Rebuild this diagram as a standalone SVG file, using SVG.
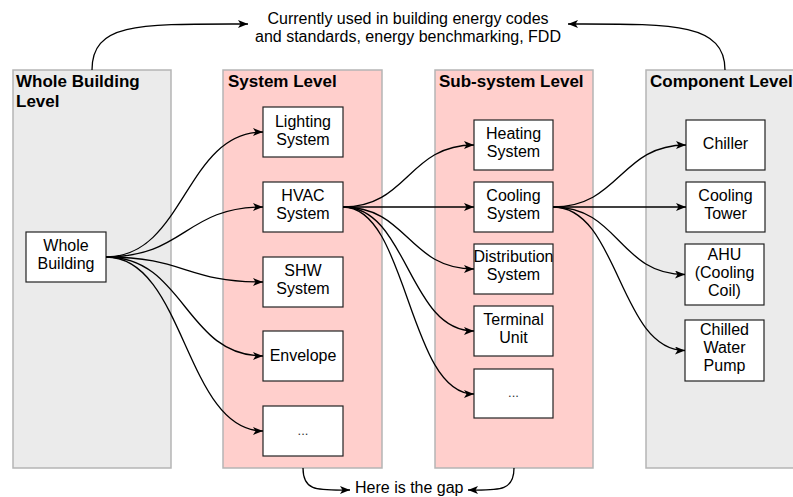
<svg xmlns="http://www.w3.org/2000/svg" width="793" height="497" viewBox="0 0 793 497">
<defs>
<marker id="ah" markerWidth="11" markerHeight="8" refX="10" refY="4" orient="auto" markerUnits="userSpaceOnUse">
<path d="M0,0 L10,4 L0,8 L2.5,4 z" fill="#000"/>
</marker>
<style>
.col-gray{fill:#ebebeb;stroke:#b5b5b5;stroke-width:1.5}
.col-pink{fill:#ffcfcc;stroke:#b5b5b5;stroke-width:1.5}
.title{font-family:"Liberation Sans",Arial,sans-serif;font-weight:bold;font-size:17px;fill:#000}
.box{fill:#fff;stroke:#222;stroke-width:1.2}
.lbl{font-family:"Liberation Sans",Arial,sans-serif;font-size:16px;fill:#000;text-anchor:middle}
.dots{font-family:"Liberation Sans",Arial,sans-serif;font-size:13px;fill:#333;text-anchor:middle}
.note{font-family:"Liberation Sans",Arial,sans-serif;font-size:16px;fill:#000}
.conn path{fill:none;stroke:#000;stroke-width:1.3;marker-end:url(#ah)}
</style>
</defs>
<rect width="793" height="497" fill="#fff"/>

<g id="col-whole">
<rect class="col-gray" x="13" y="70" width="158" height="398"/>
<text class="title" x="16" y="87">Whole Building</text>
<text class="title" x="16" y="107">Level</text>
</g>
<g id="col-system">
<rect class="col-pink" x="223" y="70" width="159" height="398"/>
<text class="title" x="228" y="87">System Level</text>
</g>
<g id="col-subsystem">
<rect class="col-pink" x="435" y="70" width="158" height="398"/>
<text class="title" x="439" y="87">Sub-system Level</text>
</g>
<g id="col-component">
<rect class="col-gray" x="646" y="70" width="160" height="398"/>
<text class="title" x="650" y="87">Component Level</text>
</g>

<g id="note-top">
<text class="note" x="408" y="24" text-anchor="middle">Currently used in building energy codes</text>
<text class="note" x="408" y="42" text-anchor="middle">and standards, energy benchmarking, FDD</text>
</g>
<g id="note-gap">
<text class="note" x="355" y="493">Here is the gap</text>
</g>

<g id="n-whole"><rect class="box" x="26" y="232" width="80" height="50"/><text class="lbl" x="66" y="251">Whole</text><text class="lbl" x="66" y="269">Building</text></g>

<g id="n-lighting"><rect class="box" x="263" y="107" width="80" height="50"/><text class="lbl" x="303" y="127">Lighting</text><text class="lbl" x="303" y="145">System</text></g>
<g id="n-hvac"><rect class="box" x="263" y="182" width="80" height="50"/><text class="lbl" x="303" y="201">HVAC</text><text class="lbl" x="303" y="219">System</text></g>
<g id="n-shw"><rect class="box" x="263" y="257" width="80" height="50"/><text class="lbl" x="303" y="276">SHW</text><text class="lbl" x="303" y="294">System</text></g>
<g id="n-envelope"><rect class="box" x="263" y="331" width="80" height="50"/><text class="lbl" x="303" y="361">Envelope</text></g>
<g id="n-sys-more"><rect class="box" x="263" y="406" width="80" height="50"/><text class="dots" x="303" y="435">...</text></g>

<g id="n-heating"><rect class="box" x="474" y="120" width="79" height="50"/><text class="lbl" x="513.5" y="139">Heating</text><text class="lbl" x="513.5" y="157">System</text></g>
<g id="n-cooling"><rect class="box" x="474" y="182" width="79" height="50"/><text class="lbl" x="513.5" y="201">Cooling</text><text class="lbl" x="513.5" y="219">System</text></g>
<g id="n-distribution"><rect class="box" x="474" y="244" width="79" height="50"/><text class="lbl" x="513.5" y="262">Distribution</text><text class="lbl" x="513.5" y="280">System</text></g>
<g id="n-terminal"><rect class="box" x="474" y="306" width="79" height="50"/><text class="lbl" x="513.5" y="325">Terminal</text><text class="lbl" x="513.5" y="343">Unit</text></g>
<g id="n-sub-more"><rect class="box" x="474" y="369" width="79" height="49"/><text class="dots" x="513.5" y="397">...</text></g>

<g id="n-chiller"><rect class="box" x="686" y="120" width="79" height="50"/><text class="lbl" x="725.5" y="149">Chiller</text></g>
<g id="n-tower"><rect class="box" x="686" y="182" width="79" height="50"/><text class="lbl" x="725.5" y="201">Cooling</text><text class="lbl" x="725.5" y="219">Tower</text></g>
<g id="n-ahu"><rect class="box" x="685" y="244" width="79" height="61"/><text class="lbl" x="724.5" y="260">AHU</text><text class="lbl" x="724.5" y="278">(Cooling</text><text class="lbl" x="724.5" y="296">Coil)</text></g>
<g id="n-pump"><rect class="box" x="685" y="320" width="79" height="61"/><text class="lbl" x="724.5" y="335">Chilled</text><text class="lbl" x="724.5" y="353">Water</text><text class="lbl" x="724.5" y="371">Pump</text></g>

<g id="connectors" class="conn">
<path d="M92,70 C92,22 140,24 248,24"/>
<path d="M725,70 C725,22 670,24 568,24"/>
<path d="M303,468 C303,492 318,490 350,490"/>
<path d="M514,468 C514,492 498,490 468,490"/>

<path d="M106,257 C185,257 185,132 263,132"/>
<path d="M106,257 C185,257 185,207 263,207"/>
<path d="M106,257 C185,257 185,282 263,282"/>
<path d="M106,257 C185,257 185,356 263,356"/>
<path d="M106,257 C185,257 185,431 263,431"/>

<path d="M343,207 C408,207 408,145 474,145"/>
<path d="M343,207 L474,207"/>
<path d="M343,207 C408,207 408,269 474,269"/>
<path d="M343,207 C408,207 408,331 474,331"/>
<path d="M343,207 C408,207 408,394 474,394"/>

<path d="M553,207 C620,207 620,145 686,145"/>
<path d="M553,207 L686,207"/>
<path d="M553,207 C619,207 619,274.5 685,274.5"/>
<path d="M553,207 C619,207 619,350.5 685,350.5"/>
</g>
</svg>
